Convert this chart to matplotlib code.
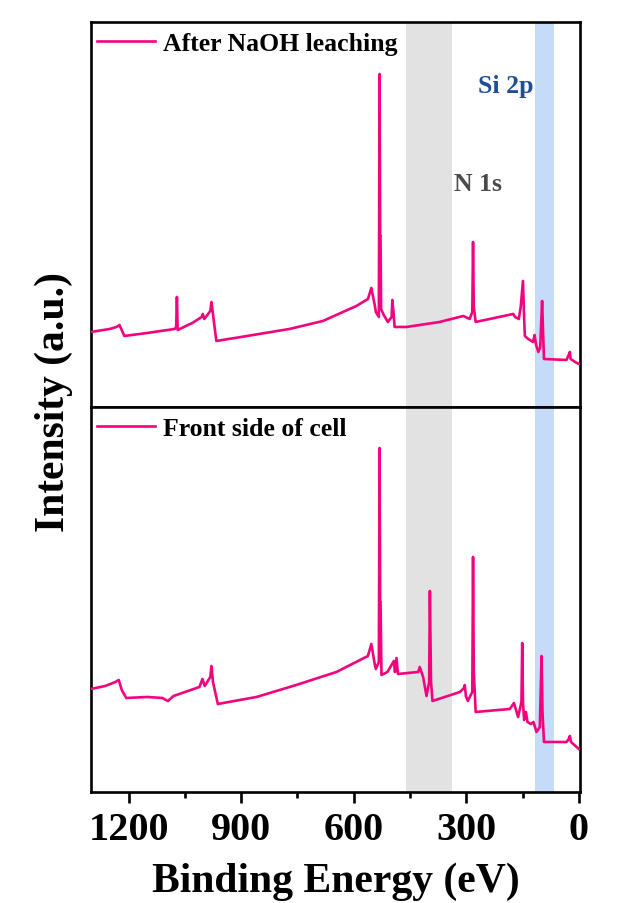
import matplotlib
matplotlib.use("Agg")
import matplotlib.pyplot as plt

plt.rcParams['font.family'] = ['Liberation Serif', 'DejaVu Serif']
plt.rcParams['font.weight'] = 'bold'

# Spectrum after NaOH leaching (binding energy eV, intensity a.u.)
be_naoh = [1300, 1250, 1232, 1224, 1211, 1150, 1077, 1073, 1071, 1069, 1030, 1005, 1002, 998,
           982, 979, 974, 966, 900, 771, 682, 593, 562, 553, 544, 541, 533, 531, 529.5, 528.5,
           527, 520, 509, 499, 497, 494, 491, 459, 371, 308, 291, 284, 282, 280, 275, 175,
           170, 160, 155, 149, 146, 144, 135, 122, 118, 114, 108, 103, 98, 95, 93, 33, 27,
           24, 22, 10, 0]
int_naoh = [75, 78, 80, 82, 71, 74, 78, 80, 110, 77, 84, 90, 93, 88,
            96, 105, 90, 66, 70, 78, 86, 101, 108, 119, 102, 95, 90, 333, 171, 171,
            98, 92, 85, 90, 107, 95, 80, 80, 85, 91, 88, 95, 165, 100, 85, 93,
            90, 88, 100, 126, 90, 71, 68, 65, 72, 62, 55, 60, 106, 70, 48, 47, 52,
            55, 48, 45, 43]

# Spectrum of the cell front side
be_front = [1300, 1262, 1235, 1226, 1218, 1206, 1150, 1110, 1095, 1080, 1011, 1003, 997, 982,
            979, 975, 962, 859, 753, 646, 562, 553, 544, 541, 533, 531, 529.5, 528.5, 526, 510,
            493, 490, 486, 482, 428, 424, 415, 406, 399, 397, 394, 390, 317, 306, 304, 301,
            296, 284, 282, 280, 275, 184, 173, 162, 153, 151, 149, 146, 141, 137, 128, 121,
            113, 104, 99.5, 97, 93, 33, 27, 24, 21, 0]
int_front = [103, 106, 110, 112, 102, 94, 95, 94, 91, 96, 105, 113, 106, 115,
             126, 110, 88, 95, 107, 120, 136, 148, 128, 123, 130, 344, 190, 190, 117, 120,
             131, 120, 134, 118, 120, 125, 115, 96, 110, 201, 110, 91, 100, 104, 107, 96,
             91, 100, 235, 120, 80, 83, 89, 75, 90, 149, 90, 72, 80, 70, 68, 70,
             60, 65, 136, 80, 50, 50, 53, 56, 50, 43]

labels = ["After NaOH leaching", "Front side of cell"]
n1s_band = (460, 337)
si2p_band = (117, 67)

line_color = '#F2047F'

fig = plt.figure(figsize=(6.24, 9.04), dpi=100)
ax_top = fig.add_axes([0.1458, 0.5487, 0.7837, 0.4259])
ax_bot = fig.add_axes([0.1458, 0.1228, 0.7837, 0.4259])

for ax, be, inten, lab in [(ax_top, be_naoh, int_naoh, labels[0]),
                           (ax_bot, be_front, int_front, labels[1])]:
    ax.axvspan(*n1s_band, color='#e2e2e2', lw=0, zorder=0)
    ax.axvspan(*si2p_band, color='#c5dbf7', lw=0, zorder=0)
    ax.plot(be, inten, color=line_color, lw=1.9, label=lab, zorder=3)
    ax.set_xlim(1300, -3)
    ax.set_ylim(0, 385)
    ax.set_yticks([])
    for s in ax.spines.values():
        s.set_linewidth(1.9)
    ax.legend(loc='upper left', bbox_to_anchor=(0.012, 0.975), frameon=False,
              fontsize=18.5, handlelength=2.26, handletextpad=0.31,
              borderpad=0, borderaxespad=0)

ax_top.set_xticks([])
ax_top.text(196, 321, "Si 2p", color='#1f4e96', fontsize=18.5, fontweight='bold',
            ha='center', va='center')
ax_top.text(269, 223, "N 1s", color='#4a4a4a', fontsize=18.5, fontweight='bold',
            ha='center', va='center')

ax_bot.set_xticks([1200, 900, 600, 300, 0])
ax_bot.set_xticks([1050, 750, 450, 150], minor=True)
ax_bot.tick_params(axis='x', which='major', direction='out', length=7.7, width=1.9,
                   labelsize=29, pad=6)
ax_bot.tick_params(axis='x', which='minor', direction='out', length=4, width=1.9)
ax_bot.set_xlabel("Binding Energy (eV)", fontsize=30, fontweight='bold', labelpad=10)

fig.text(0.086, 0.555, "Intensity (a.u.)", rotation=90, fontsize=30, fontweight='bold',
         ha='center', va='center')

fig.savefig("out.png", dpi=100)
